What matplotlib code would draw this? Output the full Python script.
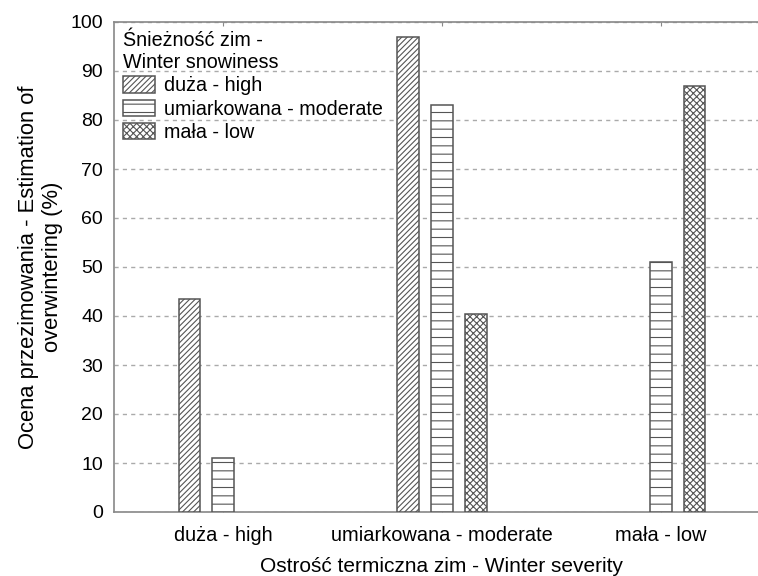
import matplotlib
matplotlib.use("Agg")
import matplotlib.pyplot as plt
import numpy as np

plt.rcParams['font.family'] = ['Liberation Sans', 'DejaVu Sans']
plt.rcParams['hatch.linewidth'] = 0.8

categories = ["duża - high", "umiarkowana - moderate", "mała - low"]
series_names = ["duża - high", "umiarkowana - moderate", "mała - low"]
high_vals = [43.5, 97, 0]
moderate_vals = [11, 83, 51]
low_vals = [0, 40.5, 87]
yticks = [0, 10, 20, 30, 40, 50, 60, 70, 80, 90, 100]

fig = plt.figure(figsize=(7.58, 5.76), dpi=100)
W, H = 758, 576
left, right, top, bottom = 114, 770, 22, 512
ax = fig.add_axes([left / W, 1 - bottom / H, (right - left) / W, (bottom - top) / H])

x = np.arange(len(categories))
bw = 0.1
off = 0.155
hatches = ['//////', '--', 'xxxxx']
vals = [high_vals, moderate_vals, low_vals]
handles = []
for i, (v, h, name) in enumerate(zip(vals, hatches, series_names)):
    v = np.array(v, dtype=float)
    xs = x + (i - 1) * off
    mask = v > 0
    bars = ax.bar(xs[mask], v[mask], width=bw, facecolor='white', edgecolor='#555555',
                  hatch=h, linewidth=1.1, zorder=3, label=name)
    handles.append(bars)

ax.set_xlim(-0.5, 2.5)
ax.set_ylim(0, 100)
ax.set_yticks(yticks)
ax.set_xticks(x)
ax.set_xticklabels(categories, fontsize=14.4)
ax.tick_params(axis='y', length=0, pad=8, labelsize=14)
ax.tick_params(axis='x', direction='in', length=3, top=True, pad=10, color='#888888')
for s in ['left', 'top', 'bottom']:
    ax.spines[s].set_color('#888888')
    ax.spines[s].set_linewidth(1.2)
ax.spines['right'].set_visible(False)
ax.yaxis.grid(True, color='#aaaaaa', linestyle=(0, (3, 3)), linewidth=1, zorder=0)
ax.set_axisbelow(True)

ax.set_ylabel("Ocena przezimowania - Estimation of\noverwintering (%)", fontsize=15.8, labelpad=5)
ax.set_xlabel("Ostrość termiczna zim - Winter severity", fontsize=15, labelpad=9)

leg = ax.legend(handles=handles, labels=series_names,
                title="Śnieżność zim -\nWinter snowiness", loc='upper left',
                bbox_to_anchor=(0.0, 1.0), frameon=False, fontsize=14.2,
                title_fontsize=14.2, handlelength=1.65, handleheight=0.9,
                handletextpad=0.45, labelspacing=0.22, borderpad=0.3,
                borderaxespad=0.15)
leg._legend_box.align = "left"

fig.savefig("out.png", dpi=100)
